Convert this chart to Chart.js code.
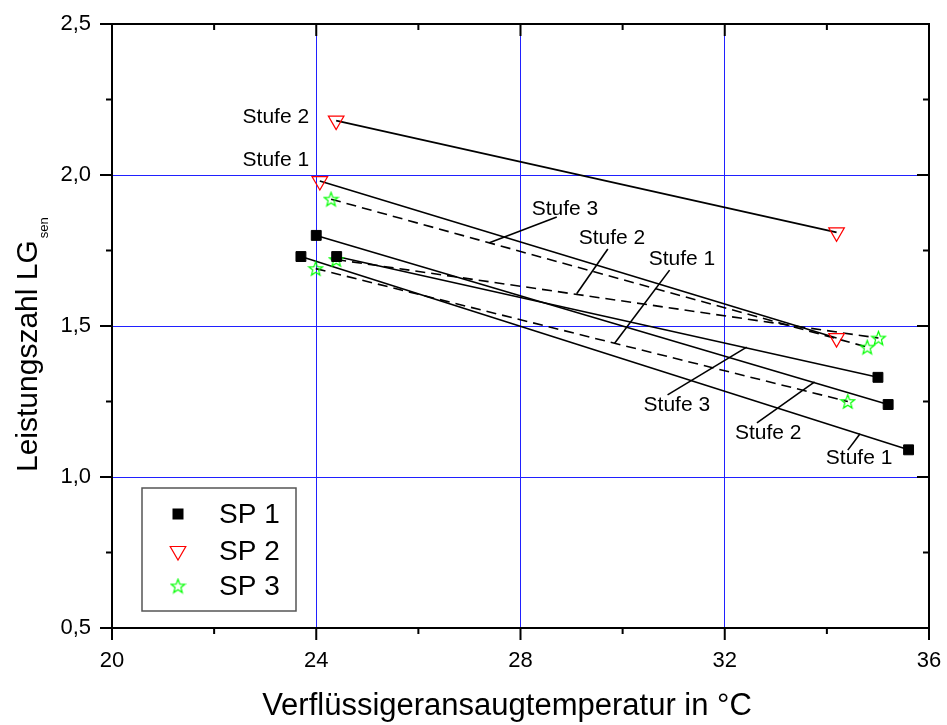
<!DOCTYPE html>
<html lang="de">
<head>
<meta charset="UTF-8">
<title>Leistungszahl LG sen</title>
<style>
  body { margin: 0; background: #fff; }
  .wrap { width: 947px; height: 725px; position: relative; }
</style>
</head>
<body>
<div class="wrap"><canvas id="chart"></canvas></div>
<script src="https://cdn.jsdelivr.net/npm/chart.js@4.4.1/dist/chart.umd.min.js"></script>
<script>
  // Werte: Temperatur (°C) und Leistungszahl je Stufe
  const STUFEN = ['Stufe 1', 'Stufe 2', 'Stufe 3'];

  const SP1_T_LOW = [23.7, 24.0, 24.4];
  const SP1_LG_LOW = [1.73, 1.80, 1.73];
  const SP1_T_HIGH = [35.6, 35.2, 35.0];
  const SP1_LG_HIGH = [1.09, 1.24, 1.33];

  const SP2_T_LOW = [24.07, 24.39];
  const SP2_LG_LOW = [1.98, 2.18];
  const SP2_T_HIGH = [34.19, 34.19];
  const SP2_LG_HIGH = [1.46, 1.81];

  const SP3_T_LOW = [23.99, 24.39, 24.29];
  const SP3_LG_LOW = [1.69, 1.72, 1.92];
  const SP3_T_HIGH = [34.41, 35.01, 34.79];
  const SP3_LG_HIGH = [1.25, 1.46, 1.43];

  const X_TICKS = [20, 24, 28, 32, 36];
  const Y_TICKS = [0.5, 1.0, 1.5, 2.0, 2.5];

  const FONT = '"Liberation Sans", Arial, sans-serif';

  // Beschriftungen mit Hinweislinien (Datenkoordinaten)
  const NOTES = [
    { text: 'Stufe 2', tx: 23.86, ty: 2.19, align: 'right' },
    { text: 'Stufe 1', tx: 23.86, ty: 2.05, align: 'right' },
    { text: 'Stufe 3', tx: 28.22, ty: 1.887, from: [28.71, 1.861], to: [27.39, 1.776] },
    { text: 'Stufe 2', tx: 29.14, ty: 1.791, from: [29.71, 1.755], to: [29.10, 1.607] },
    { text: 'Stufe 1', tx: 30.51, ty: 1.722, from: [30.92, 1.685], to: [29.84, 1.442] },
    { text: 'Stufe 3', tx: 30.41, ty: 1.238, from: [30.88, 1.272], to: [32.43, 1.430] },
    { text: 'Stufe 2', tx: 32.20, ty: 1.146, from: [32.63, 1.179], to: [33.76, 1.315] },
    { text: 'Stufe 1', tx: 33.98, ty: 1.063, from: [34.41, 1.089], to: [34.65, 1.143] }
  ];

  function points(xs, ys) {
    return xs.map((v, i) => ({ x: v, y: ys[i] }));
  }

  function starCanvas(size, color) {
    const c = document.createElement('canvas');
    c.width = size; c.height = size;
    const g = c.getContext('2d');
    const r = size / 2 - 1.2, ri = r * 0.42, cx = size / 2, cy = size / 2 + 0.6;
    g.beginPath();
    for (let i = 0; i < 10; i++) {
      const rad = (i % 2 === 0) ? r : ri;
      const a = -Math.PI / 2 + i * Math.PI / 5;
      const px = cx + rad * Math.cos(a), py = cy + rad * Math.sin(a);
      if (i === 0) g.moveTo(px, py); else g.lineTo(px, py);
    }
    g.closePath();
    g.strokeStyle = color;
    g.lineWidth = 1.2;
    g.stroke();
    return c;
  }
  const STAR = starCanvas(17, '#00ff00');

  function segments(tl, ll, th, lh, dash) {
    return tl.map((t, i) => ({
      label: STUFEN[i],
      data: [{ x: t, y: ll[i] }, { x: th[i], y: lh[i] }],
      showLine: true,
      borderColor: '#000',
      borderWidth: 1.6,
      borderDash: dash,
      pointRadius: 0,
      pointHoverRadius: 0
    }));
  }

  const datasets = [
    {
      label: 'SP 1',
      data: points(SP1_T_LOW.concat(SP1_T_HIGH), SP1_LG_LOW.concat(SP1_LG_HIGH)),
      pointStyle: 'rect',
      pointRadius: 7,
      backgroundColor: '#000',
      borderColor: '#000',
      borderWidth: 1
    },
    {
      label: 'SP 2',
      data: points(SP2_T_LOW.concat(SP2_T_HIGH), SP2_LG_LOW.concat(SP2_LG_HIGH)),
      pointStyle: 'triangle',
      rotation: 180,
      pointRadius: 9,
      backgroundColor: 'rgba(0,0,0,0)',
      borderColor: '#ff0000',
      borderWidth: 1.2
    },
    {
      label: 'SP 3',
      data: points(SP3_T_LOW.concat(SP3_T_HIGH), SP3_LG_LOW.concat(SP3_LG_HIGH)),
      pointStyle: STAR,
      pointRadius: 8
    },
    ...segments(SP1_T_LOW, SP1_LG_LOW, SP1_T_HIGH, SP1_LG_HIGH, []),
    ...segments(SP2_T_LOW, SP2_LG_LOW, SP2_T_HIGH, SP2_LG_HIGH, []),
    ...segments(SP3_T_LOW, SP3_LG_LOW, SP3_T_HIGH, SP3_LG_HIGH, [10, 6])
  ];

  const decor = {
    id: 'decor',
    afterDatasetsDraw(chart) {
      const { ctx, scales: { x, y } } = chart;
      ctx.save();
      ctx.font = '21px ' + FONT;
      ctx.fillStyle = '#000';
      ctx.strokeStyle = '#000';
      ctx.lineWidth = 1.6;
      ctx.textBaseline = 'middle';
      for (const n of NOTES) {
        ctx.textAlign = n.align || 'left';
        ctx.fillText(n.text, x.getPixelForValue(n.tx), y.getPixelForValue(n.ty));
        if (n.from) {
          ctx.beginPath();
          ctx.moveTo(x.getPixelForValue(n.from[0]), y.getPixelForValue(n.from[1]));
          ctx.lineTo(x.getPixelForValue(n.to[0]), y.getPixelForValue(n.to[1]));
          ctx.stroke();
        }
      }
      ctx.restore();
    },
    afterDraw(chart) {
      const { ctx, chartArea: a, scales: { x, y } } = chart;
      ctx.save();
      ctx.strokeStyle = '#000';
      ctx.lineWidth = 2;
      ctx.strokeRect(a.left, a.top, a.right - a.left, a.bottom - a.top);

      // Teilstriche: unten/links nach aussen, oben/rechts nach innen
      ctx.beginPath();
      for (let v = 20; v <= 36; v += 2) {
        const px = x.getPixelForValue(v);
        const len = (v - 20) % 4 === 0 ? 12 : 6;
        ctx.moveTo(px, a.bottom); ctx.lineTo(px, a.bottom + len);
        ctx.moveTo(px, a.top); ctx.lineTo(px, a.top + len);
      }
      for (let i = 0; i <= 8; i++) {
        const v = 0.5 + i * 0.25;
        const py = y.getPixelForValue(v);
        const len = i % 2 === 0 ? 12 : 6;
        ctx.moveTo(a.left, py); ctx.lineTo(a.left - len, py);
        ctx.moveTo(a.right, py); ctx.lineTo(a.right - len, py);
      }
      ctx.stroke();

      // Legende
      const lx = 142, ly = 488, lw = 154, lh = 123;
      ctx.lineWidth = 1.5;
      ctx.strokeStyle = '#555';
      ctx.fillStyle = '#fff';
      ctx.fillRect(lx, ly, lw, lh);
      ctx.strokeRect(lx, ly, lw, lh);
      const rows = [514, 551, 586];
      ctx.fillStyle = '#000';
      ctx.fillRect(178 - 5.5, rows[0] - 5.5, 11, 11);
      ctx.beginPath();
      ctx.moveTo(178 - 7.8, rows[1] - 4.5);
      ctx.lineTo(178 + 7.8, rows[1] - 4.5);
      ctx.lineTo(178, rows[1] + 9);
      ctx.closePath();
      ctx.strokeStyle = '#ff0000';
      ctx.lineWidth = 1.2;
      ctx.stroke();
      ctx.drawImage(STAR, 178 - STAR.width / 2, rows[2] - STAR.height / 2);
      ctx.font = '28px ' + FONT;
      ctx.textAlign = 'left';
      ctx.textBaseline = 'middle';
      ctx.fillStyle = '#000';
      ['SP 1', 'SP 2', 'SP 3'].forEach((t, i) => ctx.fillText(t, 219, rows[i] + 1));

      // Achsentitel
      ctx.font = '31px ' + FONT;
      ctx.textBaseline = 'alphabetic';
      ctx.textAlign = 'center';
      ctx.fillText('Verflüssigeransaugtemperatur in °C', 507, 715);

      ctx.translate(37, 472);
      ctx.rotate(-Math.PI / 2);
      ctx.textAlign = 'left';
      ctx.font = '30px ' + FONT;
      const main = 'Leistungszahl LG';
      ctx.fillText(main, 0, 0);
      const w = ctx.measureText(main).width;
      ctx.font = '13px ' + FONT;
      ctx.fillText('sen', w + 2, 11);
      ctx.restore();
    }
  };

  new Chart(document.getElementById('chart'), {
    type: 'scatter',
    data: { datasets },
    plugins: [decor],
    options: {
      responsive: true,
      maintainAspectRatio: false,
      animation: false,
      layout: { padding: { top: 24, right: 18, left: 0, bottom: 0 } },
      plugins: {
        legend: { display: false },
        tooltip: { enabled: false }
      },
      scales: {
        x: {
          type: 'linear',
          min: 20,
          max: 36,
          afterBuildTicks: (s) => { s.ticks = X_TICKS.map(v => ({ value: v })); },
          afterFit: (s) => { s.height = 97; s.paddingLeft = 0; s.paddingRight = 0; },
          ticks: {
            color: '#000',
            font: { family: FONT, size: 22 },
            padding: 20,
            maxRotation: 0,
            callback: (v) => String(v)
          },
          grid: {
            drawTicks: false,
            lineWidth: 1,
            color: (c) => (c.tick && (c.tick.value === 20 || c.tick.value === 36)) ? 'rgba(0,0,0,0)' : '#2020ff'
          },
          border: { display: false }
        },
        y: {
          type: 'linear',
          min: 0.5,
          max: 2.5,
          afterBuildTicks: (s) => { s.ticks = Y_TICKS.map(v => ({ value: v })); },
          afterFit: (s) => { s.width = 112; s.paddingTop = 0; s.paddingBottom = 0; },
          ticks: {
            color: '#000',
            font: { family: FONT, size: 22 },
            padding: 21,
            callback: (v) => Number(v).toFixed(1).replace('.', ',')
          },
          grid: {
            drawTicks: false,
            lineWidth: 1,
            color: (c) => (c.tick && (c.tick.value === 0.5 || c.tick.value === 2.5)) ? 'rgba(0,0,0,0)' : '#2020ff'
          },
          border: { display: false }
        }
      }
    }
  });
</script>
</body>
</html>
